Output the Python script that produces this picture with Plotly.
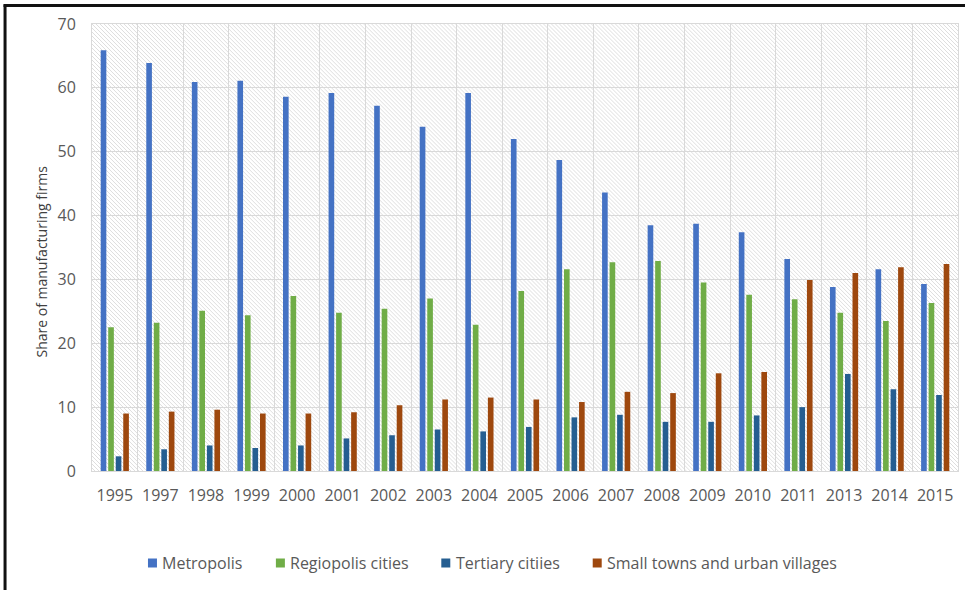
import base64
import plotly.graph_objects as go

# Survey years (category axis)
years = ["1995", "1997", "1998", "1999", "2000", "2001", "2002", "2003", "2004", "2005",
         "2006", "2007", "2008", "2009", "2010", "2011", "2013", "2014", "2015"]

# Share of manufacturing firms (%) by settlement type
metropolis = [65.9, 63.9, 60.9, 61.1, 58.6, 59.2, 57.2, 53.9, 59.2, 52.0,
              48.7, 43.6, 38.5, 38.7, 37.4, 33.2, 28.8, 31.6, 29.3]
regiopolis = [22.5, 23.2, 25.1, 24.4, 27.4, 24.8, 25.4, 27.0, 22.9, 28.2,
              31.6, 32.7, 32.9, 29.5, 27.6, 26.9, 24.8, 23.5, 26.3]
tertiary = [2.3, 3.4, 4.0, 3.6, 4.0, 5.1, 5.6, 6.5, 6.2, 6.9,
            8.4, 8.8, 7.7, 7.7, 8.7, 10.0, 15.2, 12.8, 11.9]
small_towns = [9.0, 9.3, 9.6, 9.0, 9.0, 9.2, 10.3, 11.2, 11.5, 11.2,
               10.8, 12.4, 12.2, 15.3, 15.5, 29.9, 31.0, 31.9, 32.4]

series_names = ["Metropolis", "Regiopolis cities", "Tertiary citiies",
                "Small towns and urban villages"]
series_values = [metropolis, regiopolis, tertiary, small_towns]
series_colors = ["#4472C4", "#70AD47", "#255E91", "#9E480E"]

# Light diagonal hatching used as the plot-area fill
hatch_svg = (
    "<svg xmlns='http://www.w3.org/2000/svg' width='867' height='447'>"
    "<defs><pattern id='h' width='4' height='4' patternUnits='userSpaceOnUse'>"
    "<path d='M-1,-1 L5,5 M-1,3 L1,5 M3,-1 L5,1' stroke='#dedede' stroke-width='1'/>"
    "</pattern></defs>"
    "<rect width='100%' height='100%' fill='white'/>"
    "<rect width='100%' height='100%' fill='url(#h)'/></svg>"
)
hatch_uri = "data:image/svg+xml;base64," + base64.b64encode(hatch_svg.encode()).decode()

FONT = "Open Sans"
W, H = 965, 590
ML, MR, MT, MB = 91.5, 7, 24, 119
PW, PH = W - ML - MR, H - MT - MB


def px_to_paper_x(px):
    return (px - ML) / PW


def px_to_paper_y(py):
    return (H - MB - py) / PH


fig = go.Figure()
for name, vals, color in zip(series_names, series_values, series_colors):
    fig.add_trace(go.Bar(
        x=years, y=vals, name=name,
        marker=dict(color=color, line=dict(width=0)),
    ))

fig.update_layout(
    width=W, height=H,
    margin=dict(l=ML, r=MR, t=MT, b=MB, pad=0),
    paper_bgcolor="white",
    plot_bgcolor="white",
    barmode="group",
    bargap=0.34,
    bargroupgap=0.25,
    font=dict(family=FONT, color="#595959"),
    showlegend=False,
    images=[dict(
        source=hatch_uri, xref="paper", yref="paper",
        x=0, y=1, sizex=1, sizey=1,
        xanchor="left", yanchor="top",
        sizing="stretch", layer="below",
    )],
)

fig.update_xaxes(
    type="category",
    tickson="boundaries",
    showgrid=True, gridcolor="#d9d9d9", gridwidth=1,
    showline=True, linecolor="#d9d9d9", linewidth=1, mirror=True,
    ticks="",
    ticklabelstandoff=10,
    tickfont=dict(size=16, color="#595959", family=FONT),
)
fig.update_yaxes(
    range=[0, 70], dtick=10,
    showgrid=True, gridcolor="#d9d9d9", gridwidth=1,
    showline=True, linecolor="#d9d9d9", linewidth=1, mirror=True,
    zeroline=False,
    ticks="",
    ticklabelstandoff=12,
    tickfont=dict(size=16, color="#595959", family=FONT),
)

# Axis title
fig.add_annotation(
    text="Share of manufacturing firms",
    xref="paper", yref="paper",
    x=px_to_paper_x(40), y=px_to_paper_y(262),
    xanchor="center", yanchor="middle",
    textangle=-90, showarrow=False,
    font=dict(size=14, color="#404040", family=FONT),
)

# Legend row below the axis: colour swatch followed by the series name
legend_y = 563
legend_swatch_x = [152, 280, 445.5, 597]
for name, color, sx in zip(series_names, series_colors, legend_swatch_x):
    fig.add_shape(
        type="rect", xref="paper", yref="paper",
        xsizemode="pixel", ysizemode="pixel",
        xanchor=px_to_paper_x(sx), yanchor=px_to_paper_y(legend_y),
        x0=-4.5, x1=4.5, y0=-4.5, y1=4.5,
        fillcolor=color, line=dict(width=0),
    )
    fig.add_annotation(
        text=name, xref="paper", yref="paper",
        x=px_to_paper_x(sx + 8), y=px_to_paper_y(legend_y),
        xanchor="left", yanchor="middle", showarrow=False,
        font=dict(size=16, color="#595959", family=FONT),
    )

# Dark frame along the left and top edges
frame = dict(color="#111111", width=3)
fig.add_shape(type="line", xref="paper", yref="paper",
              x0=px_to_paper_x(4.5), x1=px_to_paper_x(4.5),
              y0=px_to_paper_y(4.5), y1=px_to_paper_y(H + 5), line=frame)
fig.add_shape(type="line", xref="paper", yref="paper",
              x0=px_to_paper_x(3), x1=px_to_paper_x(W + 5),
              y0=px_to_paper_y(5.5), y1=px_to_paper_y(5.5), line=frame)

fig.write_html("out.html")
